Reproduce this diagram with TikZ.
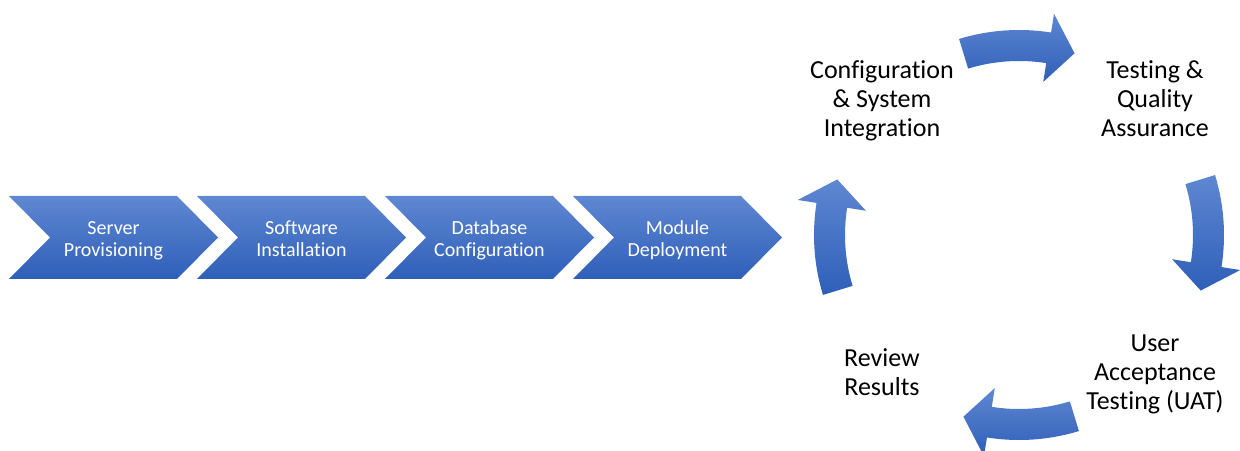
\documentclass[tikz,border=0pt]{standalone}
\usepackage{fontspec}
\setmainfont{Carlito}[Ligatures=NoCommon]
\usetikzlibrary{calc}

\definecolor{chevtop}{RGB}{95,135,210}
\definecolor{chevbot}{RGB}{46,95,184}

\tikzset{
  chevron/.style={top color=chevtop, bottom color=chevbot, draw=none},
  chevtext/.style={text=white, align=center, font=\fontsize{20}{22}\selectfont},
  cycletext/.style={text=black, align=center, font=\fontsize{26}{29}\selectfont},
}

\begin{document}
\begin{tikzpicture}[x=1pt, y=1pt]
    \useasboundingbox (0,0) rectangle (1240,450);

    % --- Chevron row ---
    \foreach \i/\name/\ta/\tb in {0/server/Server/Provisioning,
                                  1/software/Software/Installation,
                                  2/database/Database/Configuration,
                                  3/module/Module/Deployment} {
      \pgfmathsetmacro{\xo}{9+188*\i}
      \shade[chevron] (\xo,254) -- ++(168,0) -- ++(41,-41.5) -- ++(-41,-41.5)
        -- ++(-168,0) -- ++(41,41.5) -- cycle;
      \node[chevtext] (\name) at (\xo+104.5,209) {\strut\ta\\\strut\tb};
    }

    % --- Curved arrows of the cycle ---
    \coordinate (c) at (1019,215);
    \foreach \a in {90,0,-90,180} {
      \shade[chevron] ($(c)+(\a+17:205)$) arc[start angle=\a+17, end angle=\a-9, radius=205]
        -- ($(c)+(\a-9:224)$) -- ($(c)+(\a-17:190)$) -- ($(c)+(\a-9:155)$)
        -- ($(c)+(\a-9:174)$) arc[start angle=\a-9, end angle=\a+17, radius=174] -- cycle;
    }

    % --- Labels of the cycle ---
    \node[cycletext] (config) at (882,348) {\strut Configuration\\\strut\& System\\\strut Integration};
    \node[cycletext] (testing) at (1155,348) {\strut Testing \&\\\strut Quality\\\strut Assurance};
    \node[cycletext] (uat) at (1155,75) {\strut User\\\strut Acceptance\\\strut Testing (UAT)};
    \node[cycletext] (review) at (882,75) {\strut Review\\\strut Results};
\end{tikzpicture}
\end{document}
